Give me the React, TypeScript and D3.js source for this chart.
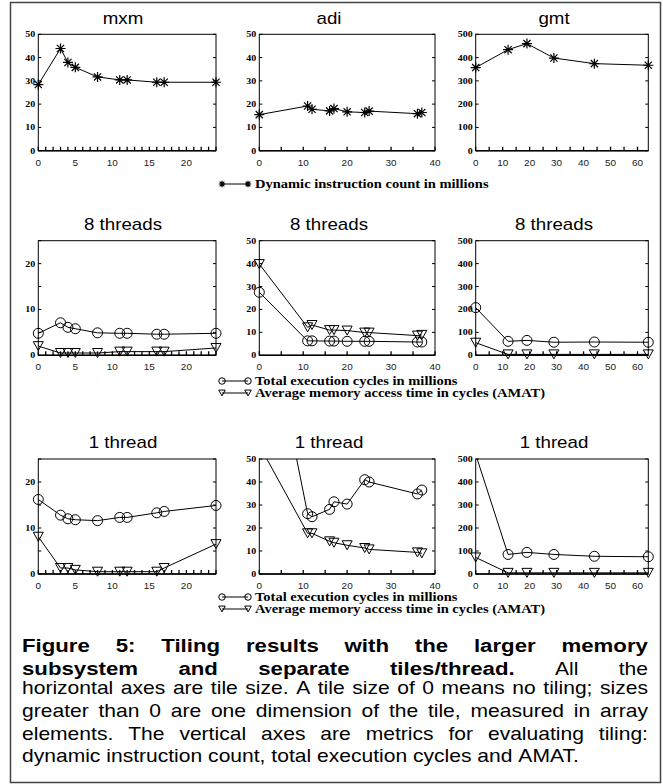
import * as d3 from 'd3'

// the scanned figure is stretched horizontally, so every text is widened by this factor
const SX = 1.17
const SANS = '"Liberation Sans", Arial, sans-serif'
const SERIF = '"Liberation Serif", "Times New Roman", serif'

// tile sizes per benchmark
const mxmTiles = [0, 3, 4, 5, 8, 11, 12, 16, 17, 24]
const adiTiles = [0, 11, 12, 16, 17, 20, 24, 25, 36, 37]
const gmtTiles = [0, 12, 19, 29, 44, 64]

// dynamic instruction count in millions
const mxmInstr = [28.4, 43.9, 37.9, 35.8, 31.7, 30.4, 30.4, 29.4, 29.4, 29.4]
const adiInstr = [15.5, 19.2, 17.8, 17.1, 18.1, 16.7, 16.4, 17.0, 15.9, 16.4]
const gmtInstr = [357, 434, 460, 398, 374, 367]

// 8 threads: total cycles (millions) and AMAT (cycles)
const mxmCycles8 = [4.8, 7.1, 6.1, 5.8, 4.9, 4.8, 4.8, 4.6, 4.6, 4.8]
const mxmAmat8 = [2.0, 0.5, 0.5, 0.5, 0.5, 0.8, 0.8, 0.8, 0.8, 1.6]
const adiCycles8 = [27.5, 6.3, 6.3, 6.2, 6.2, 6.1, 6.1, 6.1, 5.8, 5.8]
const adiAmat8 = [39.8, 12.2, 13.2, 11.0, 11.0, 10.8, 9.9, 9.9, 8.6, 8.9]
const gmtCycles8 = [208, 61, 65, 57, 58, 57]
const gmtAmat8 = [55, 4, 4, 4, 4, 4]

// 1 thread
const mxmCycles1 = [16.2, 12.8, 12.0, 11.8, 11.6, 12.3, 12.3, 13.3, 13.6, 14.9]
const mxmAmat1 = [8.1, 1.3, 1.3, 0.9, 0.5, 0.5, 0.5, 0.5, 1.3, 6.5]
const adiCycles1 = [131, 26.2, 24.9, 28.1, 31.4, 30.4, 41.0, 40.0, 34.8, 36.5]
const adiAmat1 = [56, 17.7, 17.7, 14.2, 13.6, 12.5, 11.3, 10.7, 9.4, 9.0]
const gmtCycles1 = [520, 85, 94, 85, 77, 75]
const gmtAmat1 = [72, 5, 5, 5, 5, 5]

const rowTitles = [['mxm', 'adi', 'gmt'], ['8 threads', '8 threads', '8 threads'], ['1 thread', '1 thread', '1 thread']]
const yMaxes = [[50, 50, 500], [25, 50, 500], [25, 50, 500]]

const legendInstr = 'Dynamic instruction count in millions'
const legendCycles = 'Total execution cycles in millions'
const legendAmat = 'Average memory access time in cycles (AMAT)'

const captionLines = [
  [{ t: 'Figure 5: Tiling results with the larger memory', bold: true }],
  [{ t: 'subsystem and separate tiles/thread.', bold: true }, { t: 'All the', bold: false }],
  [{ t: 'horizontal axes are tile size. A tile size of 0 means no tiling; sizes', bold: false }],
  [{ t: 'greater than 0 are one dimension of the tile, measured in array', bold: false }],
  [{ t: 'elements. The vertical axes are metrics for evaluating tiling:', bold: false }],
  [{ t: 'dynamic instruction count, total execution cycles and AMAT.', bold: false }],
]

// layout
const cols = [
  { x0: 38.3, x1: 216, titleX: 123, xMax: 24, tickStep: 1, labelStep: 5, labelMax: 20, tiles: mxmTiles },
  { x0: 259.3, x1: 435, titleX: 329, xMax: 40, tickStep: 5, labelStep: 10, labelMax: 40, tiles: adiTiles },
  { x0: 475.7, x1: 648.3, titleX: 554, xMax: 64, tickStep: 5, labelStep: 10, labelMax: 60, tiles: gmtTiles },
]
const rows = [
  { y0: 34.3, y1: 150.7 },
  { y0: 240.7, y1: 355.3 },
  { y0: 459, y1: 574 },
]

type Marker = 'star' | 'circle' | 'tri'
type Series = { values: number[]; marker: Marker }

const seriesGrid: Series[][][] = [
  [
    [{ values: mxmInstr, marker: 'star' }],
    [{ values: adiInstr, marker: 'star' }],
    [{ values: gmtInstr, marker: 'star' }],
  ],
  [
    [{ values: mxmCycles8, marker: 'circle' }, { values: mxmAmat8, marker: 'tri' }],
    [{ values: adiCycles8, marker: 'circle' }, { values: adiAmat8, marker: 'tri' }],
    [{ values: gmtCycles8, marker: 'circle' }, { values: gmtAmat8, marker: 'tri' }],
  ],
  [
    [{ values: mxmCycles1, marker: 'circle' }, { values: mxmAmat1, marker: 'tri' }],
    [{ values: adiCycles1, marker: 'circle' }, { values: adiAmat1, marker: 'tri' }],
    [{ values: gmtCycles1, marker: 'circle' }, { values: gmtAmat1, marker: 'tri' }],
  ],
]

function SText({ x, y, size, family = SANS, weight = 'normal', anchor = 'start', fill = '#000', children }: any) {
  return (
    <text
      transform={`translate(${x},${y}) scale(${SX},1)`}
      fontSize={size}
      fontFamily={family}
      fontWeight={weight}
      textAnchor={anchor}
      fill={fill}
    >
      {children}
    </text>
  )
}

function MarkerShape({ kind, cx, cy, s = 1 }: { kind: Marker; cx: number; cy: number; s?: number }) {
  if (kind === 'circle') {
    return <circle cx={cx} cy={cy} r={5 * s} fill="none" stroke="#000" strokeWidth={1} />
  }
  if (kind === 'tri') {
    const w = 5 * s
    const h = 4.5 * s
    return (
      <path
        d={`M${cx - w},${cy - h}L${cx + w},${cy - h}L${cx},${cy + h}Z`}
        fill="none"
        stroke="#000"
        strokeWidth={1}
      />
    )
  }
  const r = 5 * s
  const d = r * 0.72
  return (
    <path
      d={`M${cx - r},${cy}L${cx + r},${cy}M${cx},${cy - r}L${cx},${cy + r}M${cx - d},${cy - d}L${cx + d},${cy + d}M${cx - d},${cy + d}L${cx + d},${cy - d}`}
      stroke="#000"
      strokeWidth={1.2}
    />
  )
}

function Panel({ ri, ci }: { ri: number; ci: number }) {
  const col = cols[ci]
  const row = rows[ri]
  const yMax = yMaxes[ri][ci]
  const x = d3.scaleLinear().domain([0, col.xMax]).range([col.x0, col.x1])
  const y = d3.scaleLinear().domain([0, yMax]).range([row.y1, row.y0])
  const yTickStep = yMax === 25 ? 5 : yMax / 5
  const yLabelStep = yMax === 25 ? 10 : yMax / 5
  const yTicks = d3.range(0, yMax + 1e-6, yTickStep)
  const yLabels = d3.range(0, yMax + 1e-6, yLabelStep)
  const xTicks = d3.range(0, col.xMax + 1e-6, col.tickStep)
  const xLabels = d3.range(0, col.labelMax + 1e-6, col.labelStep)
  const clipId = `clip-${ri}-${ci}`
  const line = d3
    .line<[number, number]>()
    .x((d) => x(d[0]))
    .y((d) => y(d[1]))

  return (
    <g>
      <defs>
        <clipPath id={clipId}>
          <rect x={col.x0} y={row.y0} width={col.x1 - col.x0} height={row.y1 - row.y0} />
        </clipPath>
      </defs>
      <SText x={col.titleX} y={row.y0 - 10.7} size={16} anchor="middle">
        {rowTitles[ri][ci]}
      </SText>
      <rect
        x={col.x0}
        y={row.y0}
        width={col.x1 - col.x0}
        height={row.y1 - row.y0}
        fill="none"
        stroke="#000"
        strokeWidth={1}
      />
      <line x1={col.x0} x2={col.x1} y1={row.y1} y2={row.y1} stroke="#000" strokeWidth={1.6} />
      {xTicks.map((t) => (
        <line key={'xt' + t} x1={x(t)} x2={x(t)} y1={row.y1} y2={row.y1 - 4} stroke="#000" strokeWidth={1.3} />
      ))}
      {yTicks.map((t) => (
        <g key={'yt' + t}>
          <line x1={col.x0} x2={col.x0 + 3} y1={y(t)} y2={y(t)} stroke="#000" strokeWidth={1} />
          <line x1={col.x1} x2={col.x1 - 3} y1={y(t)} y2={y(t)} stroke="#000" strokeWidth={1} />
        </g>
      ))}
      {yLabels.map((t) => (
        <SText key={'yl' + t} x={col.x0 - 3} y={y(t) + 3} size={8.5} family={SERIF} weight="bold" anchor="end">
          {t}
        </SText>
      ))}
      {xLabels.map((t) => (
        <SText key={'xl' + t} x={x(t)} y={row.y1 + 15} size={8.5} anchor="middle" fill="#222">
          {t}
        </SText>
      ))}
      {seriesGrid[ri][ci].map((s, si) => {
        const pts = col.tiles.map((tile, i) => [tile, s.values[i]] as [number, number])
        return (
          <g key={si}>
            <path d={line(pts) ?? ''} fill="none" stroke="#000" strokeWidth={1} clipPath={`url(#${clipId})`} />
            {pts
              .filter((p) => p[1] <= yMax)
              .map((p, i) => (
                <MarkerShape key={i} kind={s.marker} cx={x(p[0])} cy={y(p[1])} />
              ))}
          </g>
        )
      })}
    </g>
  )
}

function LegendEntry({ kind, cy, label }: { kind: Marker; cy: number; label: string }) {
  return (
    <g>
      <line x1={222} x2={248} y1={cy} y2={cy} stroke="#000" strokeWidth={1} />
      <MarkerShape kind={kind} cx={222} cy={cy} s={0.65} />
      <MarkerShape kind={kind} cx={248} cy={cy} s={0.65} />
      <SText x={255} y={cy + 4.3} size={12.4} family={SERIF} weight="bold">
        {label}
      </SText>
    </g>
  )
}

let measureCtx: CanvasRenderingContext2D | null = null
function textWidth(text: string, font: string) {
  if (!measureCtx) measureCtx = document.createElement('canvas').getContext('2d')
  if (!measureCtx) return text.length * 8
  measureCtx.font = font
  return measureCtx.measureText(text).width * SX
}

function Caption() {
  const left = 22
  const right = 648
  const baselines = [652, 675, 694, 717, 740, 762]
  const boldSize = 19
  const bodySize = 18
  return (
    <g>
      {captionLines.map((segs, li) => {
        const words = segs.flatMap((seg) =>
          seg.t.split(' ').map((w) => ({ w, bold: seg.bold })),
        )
        const fontOf = (b: boolean) => `${b ? 'bold ' : ''}${b ? boldSize : bodySize}px ${SANS}`
        const widths = words.map((wd) => textWidth(wd.w, fontOf(wd.bold)))
        const total = d3.sum(widths)
        const justify = li < captionLines.length - 1
        const gap = justify ? (right - left - total) / (words.length - 1) : textWidth(' ', fontOf(false))
        let cx = left
        return (
          <g key={li}>
            {words.map((wd, i) => {
              const xPos = cx
              cx += widths[i] + gap
              return (
                <SText
                  key={i}
                  x={xPos}
                  y={baselines[li]}
                  size={wd.bold ? boldSize : bodySize}
                  weight={wd.bold ? 'bold' : 'normal'}
                >
                  {wd.w}
                </SText>
              )
            })}
          </g>
        )
      })}
    </g>
  )
}

export default function App() {
  return (
    <svg
      width={663}
      height={784}
      style={{ position: 'absolute', left: 0, top: 0, background: '#fff', display: 'block' }}
    >
      <rect x={0} y={0} width={663} height={784} fill="#fff" />
      <rect x={10.5} y={2.5} width={650} height={780} fill="none" stroke="#444" strokeWidth={1.5} />
      {rows.map((_, ri) => cols.map((__, ci) => <Panel key={`${ri}-${ci}`} ri={ri} ci={ci} />))}
      <LegendEntry kind="star" cy={184} label={legendInstr} />
      <LegendEntry kind="circle" cy={381} label={legendCycles} />
      <LegendEntry kind="tri" cy={393} label={legendAmat} />
      <LegendEntry kind="circle" cy={597} label={legendCycles} />
      <LegendEntry kind="tri" cy={609} label={legendAmat} />
      <Caption />
    </svg>
  )
}
